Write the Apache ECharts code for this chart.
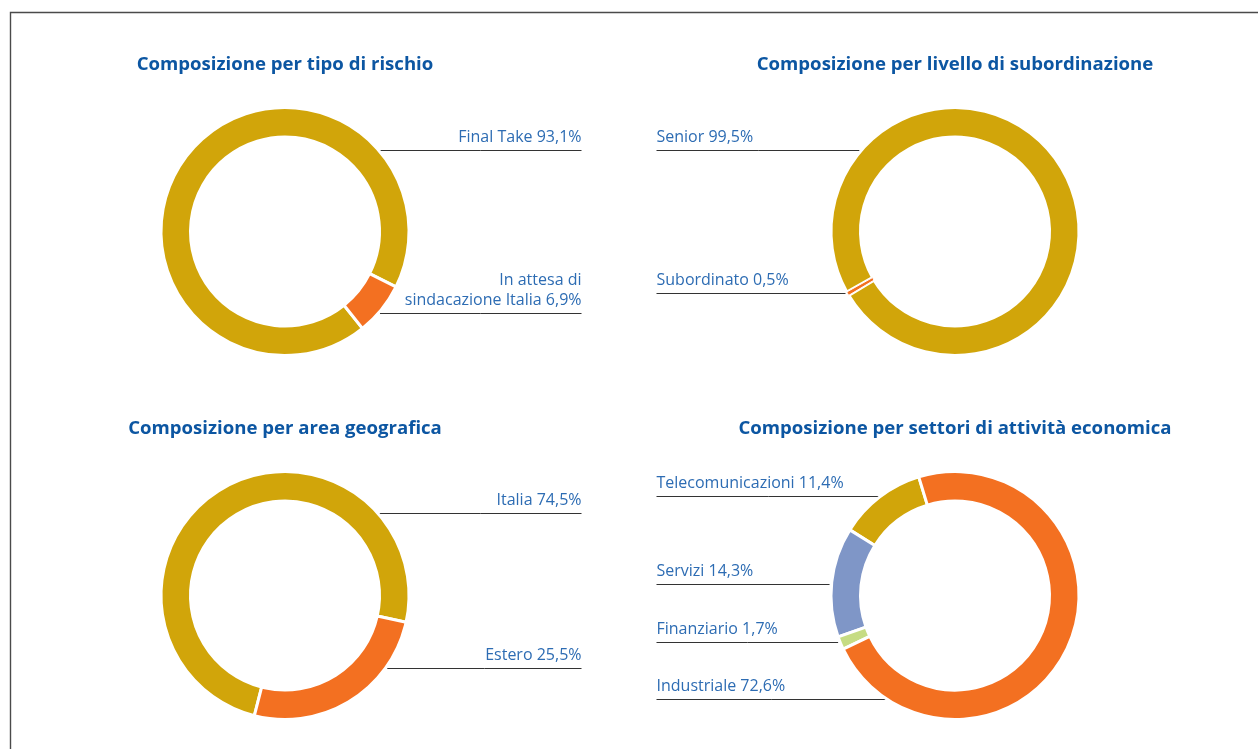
<!DOCTYPE html>
<html lang="it">
<head>
<meta charset="utf-8">
<title>Composizione del portafoglio</title>
<script src="https://cdn.jsdelivr.net/npm/echarts@6/dist/echarts.min.js"></script>
<style>
  html, body { margin: 0; padding: 0; background: #ffffff; }
  #chart { width: 1258px; height: 749px; }
</style>
</head>
<body>
<div id="chart"></div>
<script>
// Shares (%) shown in the four ring charts
const panelTitles = [
  'Composizione per tipo di rischio',
  'Composizione per livello di subordinazione',
  'Composizione per area geografica',
  'Composizione per settori di attività economica'
];
const riskNames = ['Final Take', 'In attesa di\nsindacazione Italia'];
const riskShares = [93.1, 6.9];
const seniorityNames = ['Senior', 'Subordinato'];
const seniorityShares = [99.5, 0.5];
const areaNames = ['Italia', 'Estero'];
const areaShares = [74.5, 25.5];
const sectorNames = ['Telecomunicazioni', 'Servizi', 'Finanziario', 'Industriale'];
const sectorShares = [11.4, 14.3, 1.7, 72.6];

// Palette
const GOLD = '#d1a50a';
const ORANGE = '#f37021';
const SLATE = '#7f96c7';
const LIME = '#c6dc83';
const TITLE_BLUE = '#0c56a2';
const LABEL_BLUE = '#2d6cb3';
const RULE = '#333333';

// Ring geometry (the white separator stroke eats half its width on each edge)
const SEPARATOR = 3;
const OUTER_R = 122.5;
const INNER_R = 96;
const RULE_GAP = 3.5;
const FONT = '"Open Sans", "Noto Sans", sans-serif';

// Panel layout: ring centre, start angle, side of the labels, x where the
// label rules end and the y of each rule
const panels = [
  { title: panelTitles[0], names: riskNames, values: riskShares, colors: [GOLD, ORANGE],
    cx: 285, cy: 231.5, start: -26.5, titleY: 54.5, side: 'right', ruleX: 581.5, rules: [150, 313] },
  { title: panelTitles[1], names: seniorityNames, values: seniorityShares, colors: [GOLD, ORANGE],
    cx: 955, cy: 231.5, start: 211, titleY: 54.5, side: 'left', ruleX: 656.5, rules: [150, 293] },
  { title: panelTitles[2], names: areaNames, values: areaShares, colors: [GOLD, ORANGE],
    cx: 285, cy: 595.5, start: -12.5, titleY: 418.5, side: 'right', ruleX: 581.5, rules: [513, 668] },
  { title: panelTitles[3], names: sectorNames, values: sectorShares, colors: [GOLD, SLATE, LIME, ORANGE],
    cx: 955, cy: 595.5, start: 107, titleY: 418.5, side: 'left', ruleX: 656.5, rules: [496, 584, 642, 699] }
];

function fmtPct(v) {
  return v.toFixed(1).replace('.', ',') + '%';
}

// Labels sit on a horizontal rule running from the ring's outer edge
// to a common margin
function placeLabel(p, params) {
  const ruleY = p.rules[params.dataIndex];
  const dy = ruleY - p.cy;
  const reach = Math.sqrt(Math.max(0, OUTER_R * OUTER_R - dy * dy)) + RULE_GAP;
  const right = p.side === 'right';
  const nearX = right ? p.cx + reach : p.cx - reach;
  const y = ruleY + 0.5;
  return {
    x: p.ruleX,
    y: ruleY - 2.5,
    align: right ? 'right' : 'left',
    verticalAlign: 'bottom',
    labelLinePoints: [[nearX, y], [(nearX + p.ruleX) / 2, y], [p.ruleX, y]]
  };
}

const chart = echarts.init(document.getElementById('chart'), null, { renderer: 'canvas' });

chart.setOption({
  backgroundColor: '#ffffff',
  animation: false,
  title: panels.map(p => ({
    text: p.title,
    left: p.cx,
    top: p.titleY,
    textAlign: 'center',
    padding: 0,
    textStyle: {
      color: TITLE_BLUE,
      fontFamily: FONT,
      fontWeight: 'bold',
      fontSize: 18.6,
      lineHeight: 21
    }
  })),
  graphic: [{
    type: 'polyline',
    silent: true,
    shape: { points: [[10.5, 749], [10.5, 12.5], [1258, 12.5]] },
    style: { stroke: '#4a4a4a', lineWidth: 1.4, fill: null }
  }],
  series: panels.map(p => ({
    type: 'pie',
    center: [p.cx, p.cy],
    radius: [INNER_R - SEPARATOR / 2, OUTER_R + SEPARATOR / 2],
    startAngle: p.start,
    clockwise: false,
    avoidLabelOverlap: false,
    silent: true,
    itemStyle: { borderColor: '#ffffff', borderWidth: SEPARATOR },
    label: {
      show: true,
      position: 'outside',
      color: LABEL_BLUE,
      fontFamily: FONT,
      fontSize: 16,
      lineHeight: 20,
      formatter: params => params.name + ' ' + fmtPct(params.value)
    },
    labelLine: {
      show: true,
      smooth: false,
      length: 8,
      length2: 8,
      lineStyle: { color: RULE, width: 1 }
    },
    labelLayout: params => placeLabel(p, params),
    emphasis: { disabled: true },
    data: p.names.map((name, k) => ({
      name: name,
      value: p.values[k],
      itemStyle: p.values[k] < 1
        ? { color: p.colors[k], borderWidth: 1 }
        : { color: p.colors[k] }
    }))
  }))
});
</script>
</body>
</html>
